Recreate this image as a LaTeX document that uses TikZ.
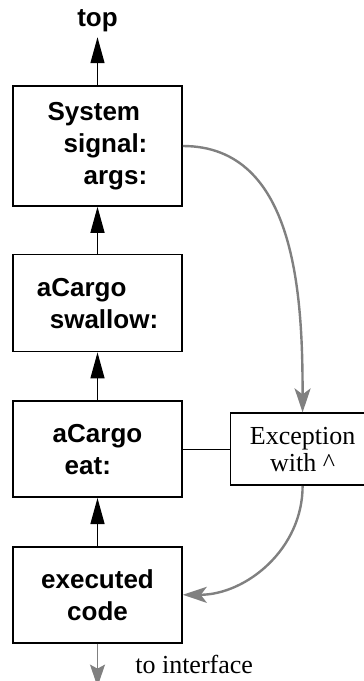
\documentclass[tikz,border=0pt]{standalone}
\usepackage{fontspec}
\setmainfont{Liberation Serif}
\newfontfamily\boxfont{Liberation Sans}
\usepackage{tikz}
\usetikzlibrary{arrows.meta,positioning}

\begin{document}
\begin{tikzpicture}[->,>={Triangle[length=26pt,width=14pt]},auto,
                semithick]
            \tikzset{block/.style={draw,-,line width=1.6pt,minimum width=169pt,
                        inner sep=0pt,font=\boxfont\bfseries\fontsize{26}{32}\selectfont},
                     exc/.style={draw,-,line width=1.6pt,minimum width=144pt,minimum height=72pt,
                        inner sep=0pt,align=center,font=\fontsize{26}{27}\selectfont},
                     back/.style={draw=gray,line width=2.4pt,
                        -{Stealth[length=24pt,width=16pt,inset=6pt]}},
                     note/.style={inner sep=0pt,font=\fontsize{26}{32}\selectfont}}
            \useasboundingbox (0,0) rectangle (364pt,-681pt);

            \node [block,minimum height=120pt,align=left] (sys) at (97.5pt,-146pt)
                {System\\\hspace*{16pt}signal:\\\hspace*{36pt}args:};
            \node [block,minimum height=97pt,align=left]  (swallow) [below=47pt of sys]
                {aCargo\\\hspace*{13pt}swallow:};
            \node [block,minimum height=96pt,align=left]  (eat) [below=48pt of swallow]
                {aCargo\\\hspace*{12pt}eat:};
            \node [block,minimum height=96pt,align=center] (exec) [below=48pt of eat]
                {executed\\code};
            \node [block,draw=none,inner sep=5pt] (top) [above=48pt of sys] {top};
            \node [exc] (except) [right=47pt of eat] {Exception\\with \^{}};
            \coordinate [below=43pt of exec] (out);
            \node [note,anchor=west] (iface) at ([xshift=37.5pt,yshift=-21pt]exec.south) {to interface};

            \path [line width=1.3pt]
            (sys)     edge (top)
            (swallow) edge (sys)
            (eat)     edge (swallow)
            (exec)    edge (eat);
            \draw [-,line width=1.3pt] (eat) -- (except);

            \draw [back] (sys.east) to [out=0,in=90] (except.north);
            \draw [back] (except.south) to [out=-90,in=0] (exec.east);
            \draw [draw=gray,line width=1.4pt,-{Stealth[length=22pt,width=15pt,inset=4pt]}]
                (exec) -- (out);
        \end{tikzpicture}
\end{document}
